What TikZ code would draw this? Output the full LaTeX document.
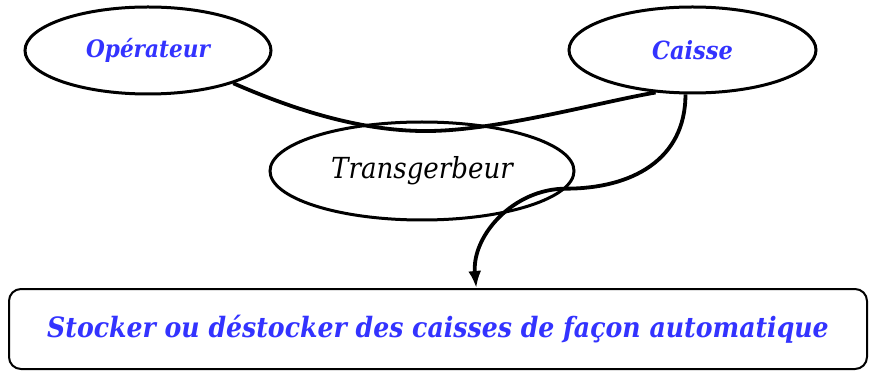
\documentclass[tikz,border=0pt]{standalone}
\usepackage{fontspec}
\setmainfont{DejaVu Serif Condensed}
\usepackage{tikz}
\usetikzlibrary{arrows.meta}
\usetikzlibrary{shapes.geometric}
\usepackage{xcolor}
\definecolor{bleu}{RGB}{51,51,255}

\begin{document}
\begin{tikzpicture}[x=1pt,y=-1pt,
  bulle/.style={draw,ellipse,line width=3pt,inner sep=0pt},
  lien/.style={line width=3.8pt}]
  \useasboundingbox (0,0) rectangle (869,371);
  \node[bulle,minimum width=246pt,minimum height=87pt,text=bleu,
    font=\bfseries\itshape\fontsize{24}{28}\selectfont] (ope) at (148,50.5) {Opérateur};
  \node[bulle,minimum width=247pt,minimum height=86pt,text=bleu,
    font=\bfseries\itshape\fontsize{25}{29}\selectfont] (cai) at (692.5,50) {Caisse};
  \node[bulle,minimum width=304pt,minimum height=98pt,
    font=\itshape\fontsize{29}{33}\selectfont] (tr) at (422,171) {Transgerbeur};
  \node[draw,rounded corners=12pt,line width=2pt,minimum width=858pt,minimum height=80pt,text=bleu,
    font=\bfseries\itshape\fontsize{28}{33}\selectfont] (fonction) at (438,329)
    {Stocker ou déstocker des caisses de façon automatique};

  \coordinate (creux) at (430,131);
  \draw[lien] (ope.-21) .. controls (290,108) and (360,132) .. (creux)
    .. controls (500,130) and (600,102) .. (cai.-131);
  \draw[lien,-{Latex[length=17pt,width=13pt]}] (cai.-99) to[out=-90,in=0,looseness=1.1] (tr.-7)
    to[out=180,in=95] (fonction.47);
\end{tikzpicture}
\end{document}
